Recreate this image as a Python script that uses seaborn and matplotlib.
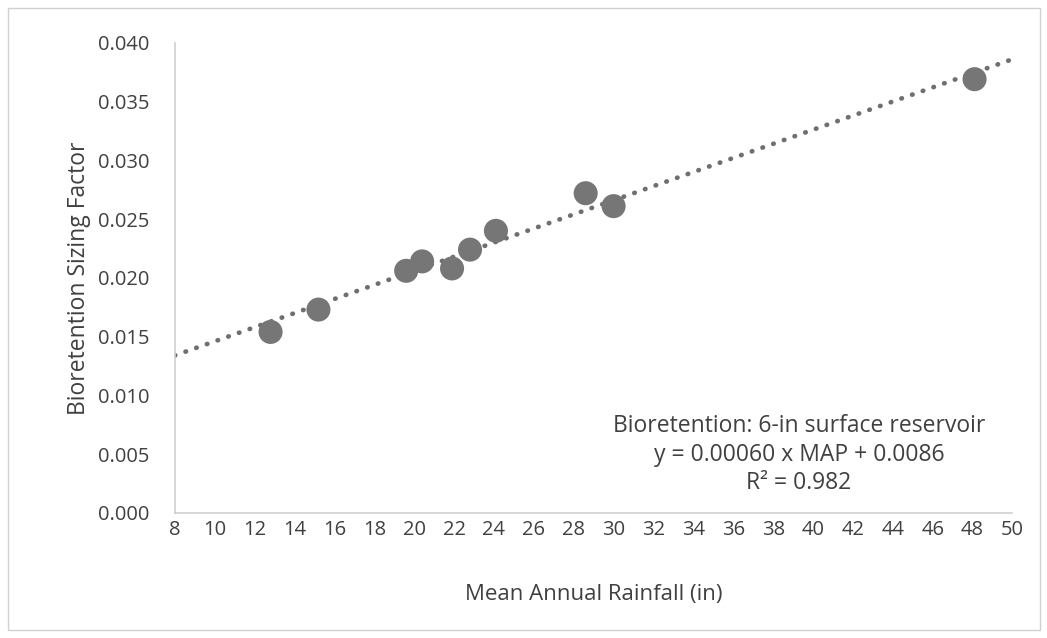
import numpy as np
import pandas as pd
import matplotlib
matplotlib.use("Agg")
import matplotlib.pyplot as plt
import seaborn as sns
from matplotlib.patches import Rectangle

# Data
rainfall = [12.8, 15.2, 19.6, 20.4, 21.9, 22.8, 24.1, 28.6, 30.0, 48.1]
sizing_factor = [0.0154, 0.0173, 0.0206, 0.0214, 0.0208, 0.0224, 0.0240, 0.0272, 0.0261, 0.0369]
slope = 0.00060
intercept = 0.0086
x_ticks = list(range(8, 51, 2))
y_ticks = [0.000, 0.005, 0.010, 0.015, 0.020, 0.025, 0.030, 0.035, 0.040]
annotation = ["Bioretention: 6-in surface reservoir",
              "y = 0.00060 x MAP + 0.0086",
              "R² = 0.982"]

df = pd.DataFrame({"MAP": rainfall, "SF": sizing_factor})

sns.set_theme(style="white")
plt.rcParams['font.family'] = ['Open Sans', 'DejaVu Sans']
text_color = "#404040"

fig = plt.figure(figsize=(10.47, 6.38), dpi=100)
ax = fig.add_axes([0.167, 0.196, 0.800, 0.737])

# trendline
xl = np.array([8, 50])
ax.plot(xl, slope * xl + intercept, linestyle=(0, (0.1, 2.3)), dash_capstyle="round",
        color="#6f6f6f", linewidth=3.4, zorder=2)

sns.scatterplot(data=df, x="MAP", y="SF", ax=ax, s=300, color="#767676",
                edgecolor="none", zorder=3)

ax.set_xlim(8, 50)
ax.set_ylim(0, 0.040)
ax.set_xticks(x_ticks)
ax.set_yticks(y_ticks)
ax.set_xticklabels([str(t) for t in x_ticks], fontsize=14.5, color=text_color)
ax.set_yticklabels([f"{t:.3f}" for t in y_ticks], fontsize=14.5, color=text_color)
ax.tick_params(axis="x", pad=5, length=0)
ax.tick_params(axis="y", pad=18, length=0)
ax.set_xlabel("Mean Annual Rainfall (in)", fontsize=16, color=text_color, labelpad=32)
ax.set_ylabel("Bioretention Sizing Factor", fontsize=16.5, color=text_color, labelpad=5)

for s in ["top", "right"]:
    ax.spines[s].set_visible(False)
for s in ["left", "bottom"]:
    ax.spines[s].set_color("#cfcfcf")
    ax.spines[s].set_linewidth(1.2)

ax.text(0.745, 0.124, "\n".join(annotation), transform=ax.transAxes,
        ha="center", va="center", fontsize=16.5, color=text_color, linespacing=1.26)

fig.patches.append(Rectangle((0.008, 0.012), 0.985, 0.975, transform=fig.transFigure,
                             fill=False, edgecolor="#d0d0d0", linewidth=1.0))

fig.savefig("out.png", dpi=100)
